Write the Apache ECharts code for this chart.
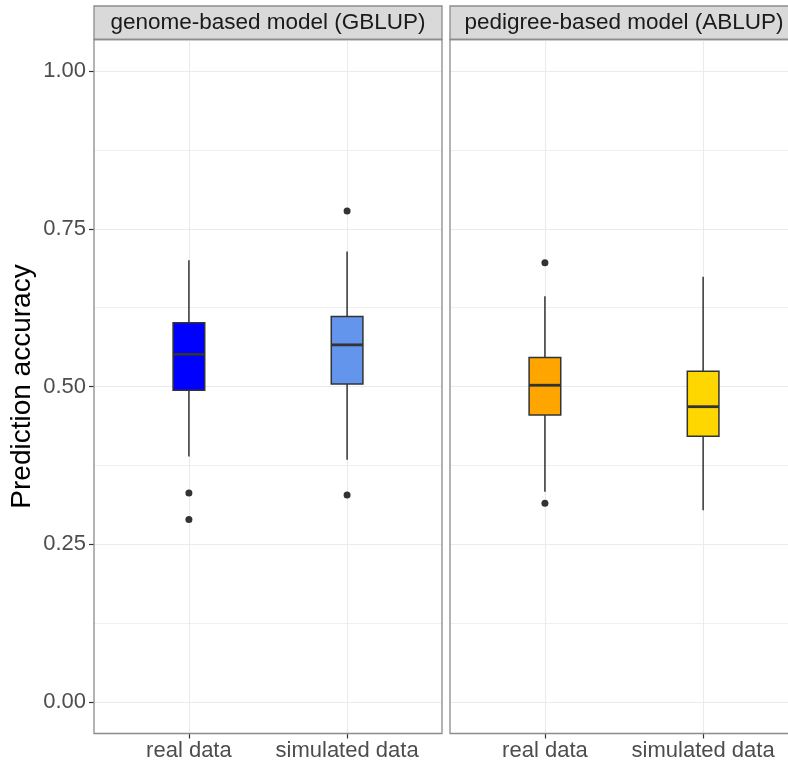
<!DOCTYPE html>
<html>
<head>
<meta charset="utf-8">
<script src="https://cdn.jsdelivr.net/npm/echarts@6.0.0/dist/echarts.min.js"></script>
<style>
  html, body { margin: 0; padding: 0; background: #fff; }
  #main { width: 788px; height: 765px; }
</style>
</head>
<body>
<div id="main"></div>
<script>
// panels and groups
var panelNames = ['genome-based model (GBLUP)', 'pedigree-based model (ABLUP)'];
var groupNames = ['real data', 'simulated data'];
var groupPos = [1, 2];

// box stats: [x, lower whisker, Q1, median, Q3, upper whisker]
var gblupBoxes = [
    [1, 0.389, 0.494, 0.551, 0.601, 0.700],
    [2, 0.384, 0.504, 0.566, 0.611, 0.714]
];
var ablupBoxes = [
    [1, 0.333, 0.455, 0.502, 0.546, 0.643],
    [2, 0.304, 0.421, 0.468, 0.524, 0.674]
];

// outliers [x, value]
var gblupOutliers = [[1, 0.331], [1, 0.289], [2, 0.778], [2, 0.328]];
var ablupOutliers = [[1, 0.696], [1, 0.315]];

var yTicks = [0, 0.25, 0.5, 0.75, 1];
var yMinorTicks = [0.125, 0.375, 0.625, 0.875];

var boxColors = [['#0000FF', '#6495ED'], ['#FFA500', '#FFD700']];

var myChart = echarts.init(document.getElementById('main'));

var boxWidth = 0.2;
function makeRenderer(colors) {
    return function (params, api) {
        var x = api.value(0);
        var pLo = api.coord([x, api.value(1)]);
        var pQ1 = api.coord([x, api.value(2)]);
        var pMed = api.coord([x, api.value(3)]);
        var pQ3 = api.coord([x, api.value(4)]);
        var pHi = api.coord([x, api.value(5)]);
        var w = api.size([boxWidth, 0])[0];
        var line = { stroke: '#333333', lineWidth: 1.5 };
        return {
            type: 'group',
            children: [
                { type: 'line', shape: { x1: pHi[0], y1: pHi[1], x2: pQ3[0], y2: pQ3[1] }, style: line },
                { type: 'line', shape: { x1: pLo[0], y1: pLo[1], x2: pQ1[0], y2: pQ1[1] }, style: line },
                { type: 'rect', shape: { x: pQ3[0] - w / 2, y: pQ3[1], width: w, height: pQ1[1] - pQ3[1] },
                  style: { fill: colors[params.dataIndex], stroke: '#333333', lineWidth: 1.5 } },
                { type: 'line', shape: { x1: pMed[0] - w / 2, y1: pMed[1], x2: pMed[0] + w / 2, y2: pMed[1] },
                  style: { stroke: '#333333', lineWidth: 2.8 } }
            ]
        };
    };
}

// right panel is cut by the picture edge
var gridLeft = [94, 450];
var gridWidth = [348, 338];
var xMax = [2.6, 0.4 + 338 / 158.2];
var grids = [], xAxes = [], yAxes = [], series = [], graphics = [];
for (var i = 0; i < 2; i++) {
    grids.push({
        left: gridLeft[i], top: 39.5, width: gridWidth[i], height: 694,
        show: true, borderWidth: 0, backgroundColor: '#fff'
    });
    xAxes.push({
        type: 'value', gridIndex: i, min: 0.4, max: xMax[i],
        axisLine: { show: false, onZero: false },
        axisTick: { show: true, customValues: groupPos, length: 5, lineStyle: { color: '#333333', width: 1.2 } },
        axisLabel: {
            customValues: groupPos, margin: 6, fontSize: 22, color: '#4d4d4d',
            fontFamily: 'Liberation Sans',
            formatter: function (v) { return groupNames[Math.round(v) - 1]; }
        },
        splitLine: { show: true, lineStyle: { color: '#ebebeb', width: 1.1 } }
    });
    yAxes.push({
        type: 'value', gridIndex: i, min: -0.05, max: 1.05,
        name: i === 0 ? 'Prediction accuracy' : '',
        nameLocation: 'middle', nameGap: 58, nameRotate: 90,
        nameTextStyle: { fontSize: 28, color: '#000', fontFamily: 'Liberation Sans' },
        axisLine: { show: false, onZero: false },
        axisTick: { show: i === 0, customValues: yTicks, length: 5, lineStyle: { color: '#333333', width: 1.2 } },
        axisLabel: {
            show: i === 0, customValues: yTicks, margin: 8, fontSize: 22, color: '#4d4d4d',
            fontFamily: 'Liberation Sans',
            formatter: function (v) { return v.toFixed(2); }
        },
        splitLine: { show: true, lineStyle: { color: '#ebebeb', width: 1.1 } }
    });
    yAxes.push({
        type: 'value', gridIndex: i, min: -0.05, max: 1.05, position: 'left',
        axisLine: { show: false, onZero: false },
        axisTick: { show: false, customValues: yMinorTicks },
        axisLabel: { show: false, customValues: yMinorTicks },
        splitLine: { show: true, lineStyle: { color: '#efefef', width: 1 } }
    });
    // panel border and strip
    graphics.push({
        type: 'rect', x: gridLeft[i], y: 39.5, z: 100, silent: true,
        shape: { width: 348, height: 694 },
        style: { fill: 'none', stroke: '#8c8c8c', lineWidth: 1.3 }
    });
    graphics.push({
        type: 'rect', x: gridLeft[i], y: 6,
        shape: { width: 348, height: 33.5 },
        style: { fill: '#d9d9d9', stroke: '#8c8c8c', lineWidth: 1.3 }
    });
    graphics.push({
        type: 'text', x: gridLeft[i] + 174, y: 23,
        style: {
            text: panelNames[i], fill: '#1a1a1a', fontSize: 22.5, fontFamily: 'Liberation Sans',
            align: 'center', verticalAlign: 'middle'
        }
    });
}

series.push({
    type: 'custom', xAxisIndex: 0, yAxisIndex: 0,
    encode: { x: 0, y: [1, 2, 3, 4, 5] },
    renderItem: makeRenderer(boxColors[0]),
    data: gblupBoxes
});
series.push({
    type: 'custom', xAxisIndex: 1, yAxisIndex: 2,
    encode: { x: 0, y: [1, 2, 3, 4, 5] },
    renderItem: makeRenderer(boxColors[1]),
    data: ablupBoxes
});
series.push({
    type: 'scatter', xAxisIndex: 0, yAxisIndex: 0,
    symbolSize: 7, itemStyle: { color: '#333333', opacity: 1 },
    data: gblupOutliers
});
series.push({
    type: 'scatter', xAxisIndex: 1, yAxisIndex: 2,
    symbolSize: 7, itemStyle: { color: '#333333', opacity: 1 },
    data: ablupOutliers
});

var option = {
    animation: false,
    backgroundColor: '#fff',
    grid: grids,
    xAxis: xAxes,
    yAxis: yAxes,
    series: series,
    graphic: graphics
};
myChart.setOption(option);

window.onresize = function () {
    myChart.resize();
};
</script>
</body>
</html>
